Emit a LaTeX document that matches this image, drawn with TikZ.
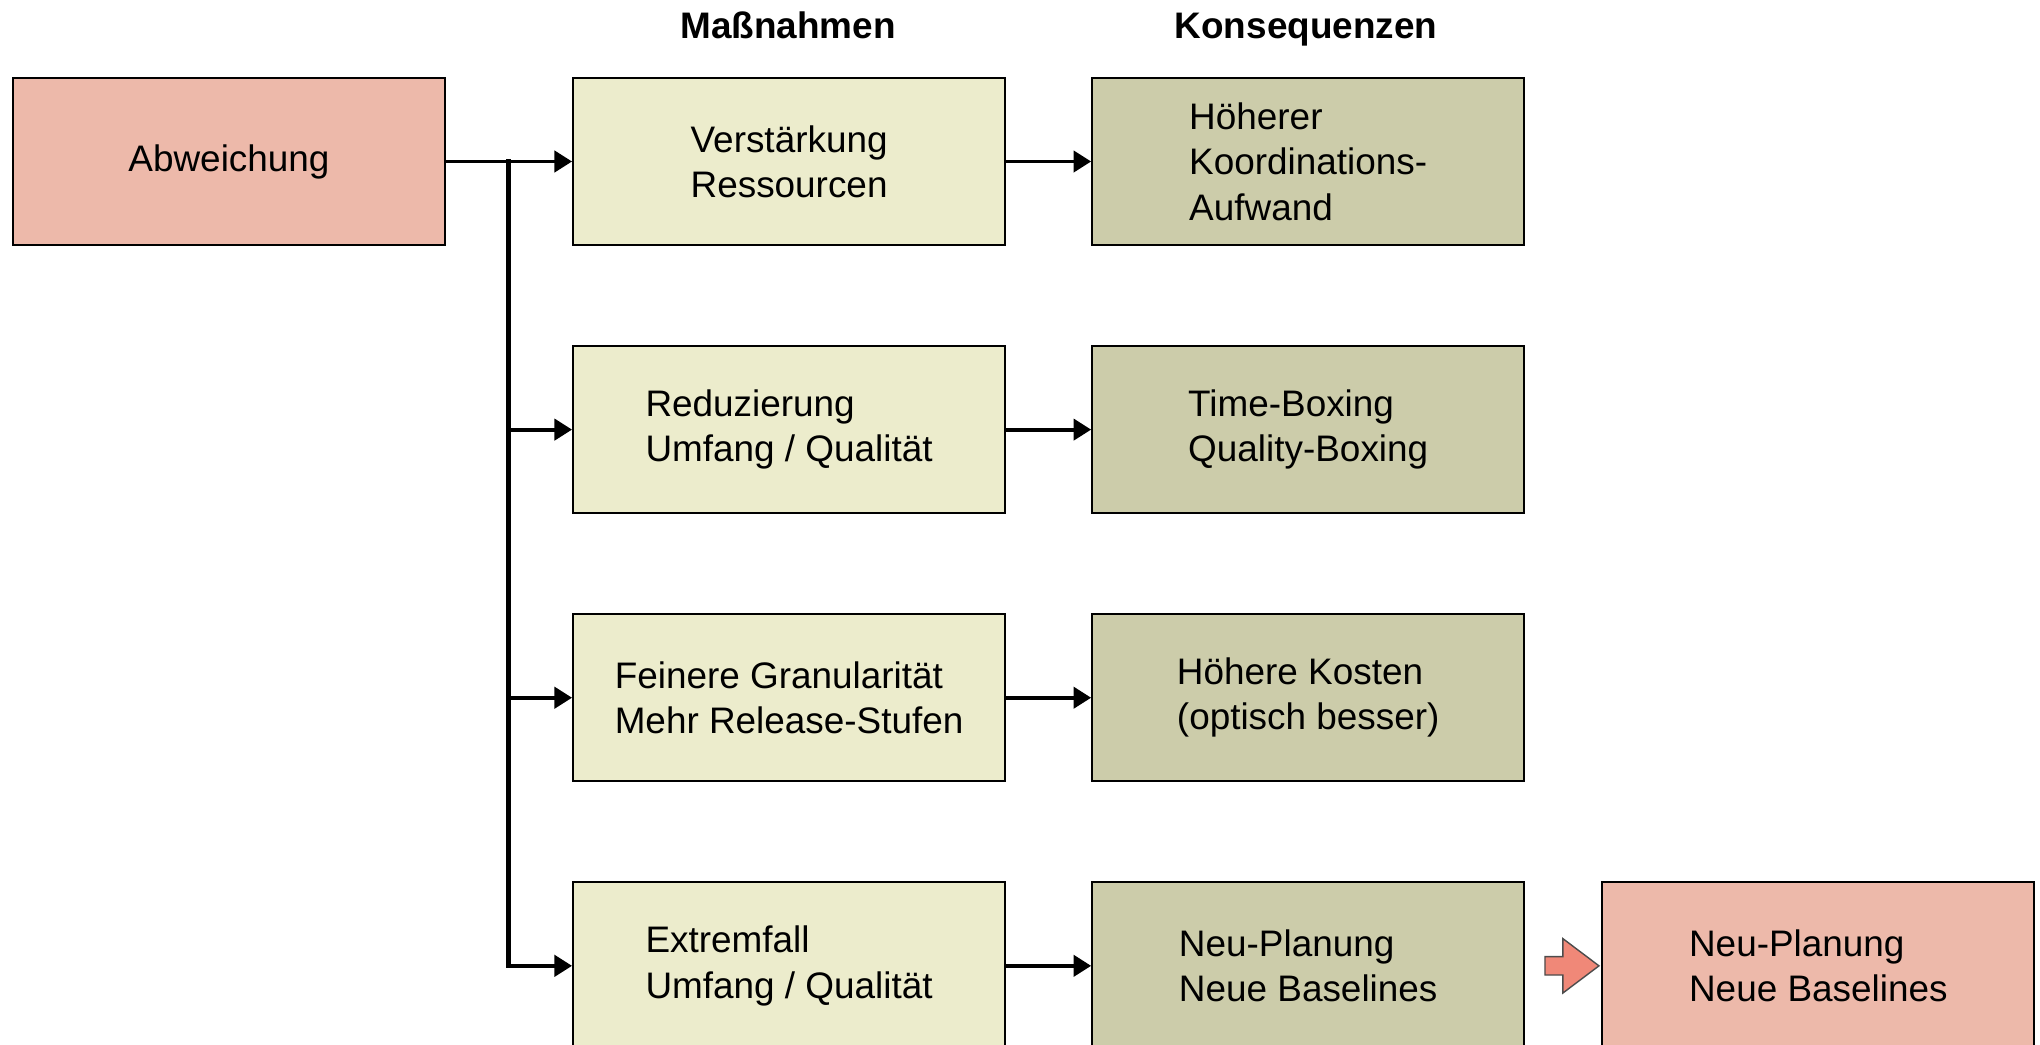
\documentclass[tikz,border=0pt]{standalone}
\usepackage{fontspec}
\setmainfont{Liberation Sans}
\usetikzlibrary{arrows.meta,positioning,shapes.arrows}
\definecolor{salmon}{RGB}{237,185,170}
\definecolor{hellgelb}{RGB}{236,236,204}
\definecolor{oliv}{RGB}{204,204,170}
\definecolor{pfeilrot}{RGB}{240,136,120}
\begin{document}
\begin{tikzpicture}[
        box/.style={draw, line width=0.6pt, minimum width=4.32cm, minimum height=1.67cm, inner sep=0pt, align=left, font=\fontsize{10.5}{12.9}\selectfont},
        abw/.style={box, fill=salmon},
        mass/.style={box, fill=hellgelb},
        kons/.style={box, fill=oliv},
        kopf/.style={anchor=base, font=\fontsize{10.5}{12.9}\selectfont\bfseries},
        arr/.style={line width=1.1pt, -{Triangle[length=5pt,width=6pt]}},
        pfeil/.style={single arrow, draw=black!70, line width=0.4pt, fill=pfeilrot, inner xsep=0pt, inner ysep=0.085cm, minimum height=0.54cm, single arrow head extend=0.18cm, single arrow tip angle=74}
    ]
        \useasboundingbox (0,0) rectangle (20.4,-10.45);
        \clip (0,0) rectangle (20.4,-10.45);
        \node[abw] (abw) at (2.29,-1.615) {Abweichung};
        \node[mass, right=1.26cm of abw] (m1) {Verstärkung\\Ressourcen};
        \node[mass, below=0.99cm of m1] (m2) {Reduzierung\\Umfang / Qualität};
        \node[mass, below=0.99cm of m2] (m3) {Feinere Granularität\\Mehr Release-Stufen};
        \node[mass, below=0.99cm of m3] (m4) {Extremfall\\Umfang / Qualität};
        \node[kons, right=0.85cm of m1] (k1) {Höherer\\Koordinations-\\Aufwand};
        \node[kons, right=0.85cm of m2] (k2) {Time-Boxing\\Quality-Boxing};
        \node[kons, right=0.85cm of m3] (k3) {Höhere Kosten\\(optisch besser)};
        \node[kons, right=0.85cm of m4] (k4) {Neu-Planung\\Neue Baselines};
        \node[abw, right=0.76cm of k4] (r4) {Neu-Planung\\Neue Baselines};
        \node[pfeil, right=0.19cm of k4] (pf) {};
        \node[kopf] (hm) at (7.88,-0.385) {Maßnahmen};
        \node[kopf] (hk) at (13.06,-0.385) {Konsequenzen};
        % Verzweigung
        \coordinate[right=0.62cm of abw.east] (ast);
        \draw[line width=1.4pt, line cap=rect] (ast) -- (ast |- m4.west);
        \draw[arr] (abw) -- (m1);
        \foreach \i in {2,3,4} \draw[arr] (ast |- m\i.west) -- (m\i);
        \foreach \i in {1,...,4} \draw[arr] (m\i) -- (k\i);
    \end{tikzpicture}
\end{document}
